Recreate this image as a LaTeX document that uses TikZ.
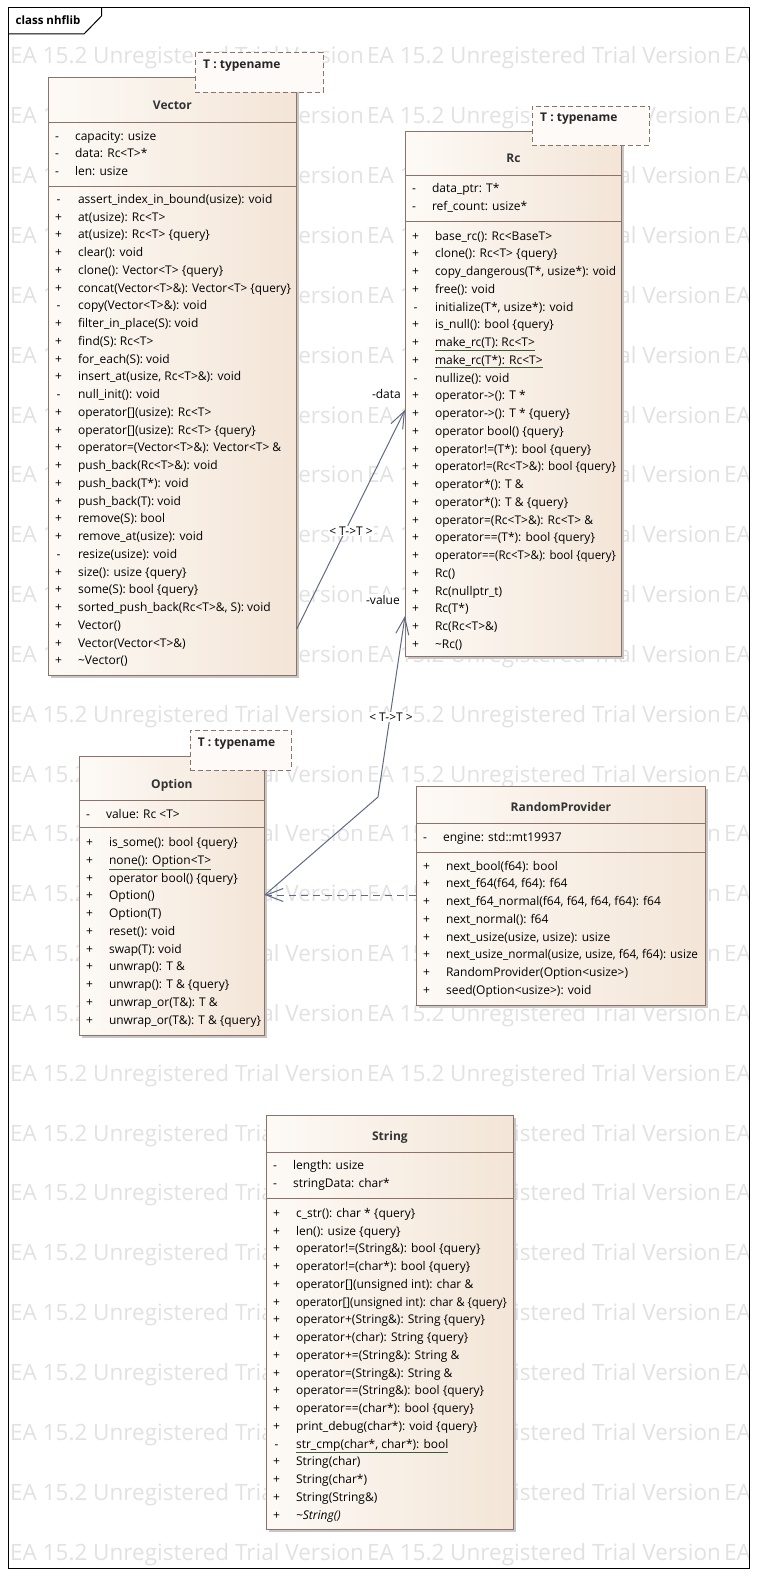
\documentclass[tikz,border=0pt]{standalone}
\usepackage{fontspec}
\setmainfont{Open Sans}
\usepackage{graphicx}
\usepackage{tikz}
\usetikzlibrary{arrows.meta,shadows,positioning}

\definecolor{boxline}{RGB}{140,115,105}
\definecolor{boxlight}{RGB}{253,250,246}
\definecolor{boxdark}{RGB}{243,229,215}
\definecolor{tmplfill}{RGB}{253,250,247}
\definecolor{linkline}{RGB}{95,107,133}
\definecolor{wmgray}{RGB}{226,226,226}
\definecolor{staticline}{RGB}{60,90,60}

\newsavebox\fitbox
\newcommand\fitin[2]{\sbox\fitbox{#2}\ifdim\wd\fitbox>#1pt\resizebox{#1pt}{\ht\fitbox}{\usebox\fitbox}\else\usebox\fitbox\fi}
\newcommand\statop[1]{{\color{staticline}\underline{\color{black}#1}}}
\newcommand\memberlist[1]{\begin{tabular}[t]{@{}c@{\hspace{16pt}}l@{}}#1\end{tabular}}

\begin{document}
\begin{tikzpicture}[x=1pt, y=-1pt,
  classbox/.style={draw=boxline, line width=0.8pt, left color=boxlight, right color=boxdark,
    drop shadow={shadow xshift=3pt, shadow yshift=-3pt, fill=black!22, opacity=1},
    inner sep=0pt, anchor=north west},
  tmplbox/.style={draw=boxline, line width=0.8pt, dash pattern=on 5pt off 3pt, fill=tmplfill,
    inner sep=0pt, anchor=north west},
  compline/.style={draw=boxline, line width=0.8pt},
  title/.style={font=\fontsize{12}{14}\selectfont\bfseries, text=black!80, anchor=base},
  tmpltext/.style={font=\fontsize{12}{14}\selectfont\bfseries, text=black!85, anchor=base west, inner sep=0pt},
  members/.style={font=\fontsize{12}{17.75}\selectfont, anchor=base west, inner sep=0pt},
  assoc/.style={draw=linkline, line width=1pt, -{Straight Barb[length=17pt,width=13pt]}},
  depend/.style={assoc, dash pattern=on 7pt off 5pt},
  elabel/.style={font=\fontsize{12}{14}\selectfont, fill=white, inner sep=1pt},
  wmark/.style={font=\fontsize{22.5}{24}\selectfont, text=wmgray, anchor=base west, inner sep=0pt}]

  \useasboundingbox (0,0) rectangle (757,1576);
  \fill[white] (0,0) rectangle (757,1576);

  % Watermark
  \begin{scope}
    \clip (8,8) rectangle (749,1568);
    \foreach \i in {0,...,25}
      \foreach \j in {0,1,2}
        \node[wmark] (wm-\i-\j) at (10+357*\j, 64+59.84*\i) {EA 15.2 Unregistered Trial Version};
  \end{scope}

  % Frame
  \draw[line width=1pt] (8,8) rectangle (749,1568);
  \draw[line width=1pt] (8,34) -- (84,34) -- (101.5,16) -- (101.5,8);
  \node[anchor=base west, inner sep=0pt, font=\fontsize{11.5}{14}\selectfont\bfseries] (frame-name) at (15.5,25) {class nhflib};

  % Vector
  \node[classbox, minimum width=248, minimum height=598] (vector) at (48,77) {};
  \draw[compline] ([yshift=-45]vector.north west) -- ([yshift=-45]vector.north east);
  \draw[compline] ([yshift=-109]vector.north west) -- ([yshift=-109]vector.north east);
  \node[title] (vector-name) at ([yshift=-32.5]vector.north) {Vector};
  \node[members] (vector-attrs) at ([xshift=7, yshift=-63]vector.north west) {\memberlist{
    - & capacity: usize \\
    - & data: Rc<T>* \\
    - & len: usize}};
  \node[members] (vector-ops) at ([xshift=7, yshift=-126.3]vector.north west) {\memberlist{
    - & assert\_index\_in\_bound(usize): void \\
    + & at(usize): Rc<T> \\
    + & at(usize): Rc<T> \{query\} \\
    + & clear(): void \\
    + & clone(): Vector<T> \{query\} \\
    + & \fitin{213}{concat(Vector<T>\&): Vector<T> \{query\}} \\
    - & copy(Vector<T>\&): void \\
    + & filter\_in\_place(S): void \\
    + & find(S): Rc<T> \\
    + & for\_each(S): void \\
    + & insert\_at(usize, Rc<T>\&): void \\
    - & null\_init(): void \\
    + & operator[](usize): Rc<T> \\
    + & operator[](usize): Rc<T> \{query\} \\
    + & \fitin{213}{operator=(Vector<T>\&): Vector<T> \&} \\
    + & push\_back(Rc<T>\&): void \\
    + & push\_back(T*): void \\
    + & push\_back(T): void \\
    + & remove(S): bool \\
    + & remove\_at(usize): void \\
    - & resize(usize): void \\
    + & size(): usize \{query\} \\
    + & some(S): bool \{query\} \\
    + & sorted\_push\_back(Rc<T>\&, S): void \\
    + & Vector() \\
    + & Vector(Vector<T>\&) \\
    + & \textasciitilde Vector()}};
  \node[tmplbox, minimum width=128, minimum height=40] (vector-tmpl) at (195,52) {};
  \node[tmpltext] (vector-param) at (203,68.5) {T : typename};

  % Rc
  \node[classbox, minimum width=216, minimum height=525] (rc) at (405,131) {};
  \draw[compline] ([yshift=-44.3]rc.north west) -- ([yshift=-44.3]rc.north east);
  \draw[compline] ([yshift=-90]rc.north west) -- ([yshift=-90]rc.north east);
  \node[title] (rc-name) at ([yshift=-31.8]rc.north) {Rc};
  \node[members] (rc-attrs) at ([xshift=7, yshift=-61.7]rc.north west) {\memberlist{
    - & data\_ptr: T* \\
    - & ref\_count: usize*}};
  \node[members] (rc-ops) at ([xshift=7, yshift=-109]rc.north west) {\memberlist{
    + & base\_rc(): Rc<BaseT> \\
    + & clone(): Rc<T> \{query\} \\
    + & \fitin{181}{copy\_dangerous(T*, usize*): void} \\
    + & free(): void \\
    - & initialize(T*, usize*): void \\
    + & is\_null(): bool \{query\} \\
    + & \statop{make\_rc(T): Rc<T>} \\
    + & \statop{make\_rc(T*): Rc<T>} \\
    - & nullize(): void \\
    + & operator->(): T * \\
    + & operator->(): T * \{query\} \\
    + & operator bool() \{query\} \\
    + & operator!=(T*): bool \{query\} \\
    + & \fitin{181}{operator!=(Rc<T>\&): bool \{query\}} \\
    + & operator*(): T \& \\
    + & operator*(): T \& \{query\} \\
    + & \fitin{181}{operator=(Rc<T>\&): Rc<T> \&} \\
    + & \fitin{181}{operator==(T*): bool \{query\}} \\
    + & \fitin{181}{operator==(Rc<T>\&): bool \{query\}} \\
    + & Rc() \\
    + & Rc(nullptr\_t) \\
    + & Rc(T*) \\
    + & Rc(Rc<T>\&) \\
    + & \textasciitilde Rc()}};
  \node[tmplbox, minimum width=117, minimum height=39] (rc-tmpl) at (532,106) {};
  \node[tmpltext] (rc-param) at (540,122) {T : typename};

  % Option
  \node[classbox, minimum width=185, minimum height=279] (option) at (79,756) {};
  \draw[compline] ([yshift=-44.3]option.north west) -- ([yshift=-44.3]option.north east);
  \draw[compline] ([yshift=-71.7]option.north west) -- ([yshift=-71.7]option.north east);
  \node[title] (option-name) at ([yshift=-32.2]option.north) {Option};
  \node[members] (option-attrs) at ([xshift=7, yshift=-62]option.north west) {\memberlist{
    - & value: Rc <T>}};
  \node[members] (option-ops) at ([xshift=7, yshift=-90.7]option.north west) {\memberlist{
    + & is\_some(): bool \{query\} \\
    + & \statop{none(): Option<T>} \\
    + & operator bool() \{query\} \\
    + & Option() \\
    + & Option(T) \\
    + & reset(): void \\
    + & swap(T): void \\
    + & unwrap(): T \& \\
    + & unwrap(): T \& \{query\} \\
    + & unwrap\_or(T\&): T \& \\
    + & \fitin{152}{unwrap\_or(T\&): T \& \{query\}}}};
  \node[tmplbox, minimum width=101, minimum height=40] (option-tmpl) at (190,730) {};
  \node[tmpltext] (option-param) at (197.7,746.7) {T : typename};

  % RandomProvider
  \node[classbox, minimum width=289, minimum height=219] (random) at (416,786) {};
  \draw[compline] ([yshift=-37.3]random.north west) -- ([yshift=-37.3]random.north east);
  \draw[compline] ([yshift=-66.3]random.north west) -- ([yshift=-66.3]random.north east);
  \node[title] (random-name) at ([yshift=-25.2]random.north) {RandomProvider};
  \node[members] (random-attrs) at ([xshift=7, yshift=-55.7]random.north west) {\memberlist{
    - & engine: std::mt19937}};
  \node[members] (random-ops) at ([xshift=7, yshift=-84]random.north west) {\memberlist{
    + & next\_bool(f64): bool \\
    + & next\_f64(f64, f64): f64 \\
    + & \fitin{252}{next\_f64\_normal(f64, f64, f64, f64): f64} \\
    + & next\_normal(): f64 \\
    + & next\_usize(usize, usize): usize \\
    + & \fitin{252}{next\_usize\_normal(usize, usize, f64, f64): usize} \\
    + & RandomProvider(Option<usize>) \\
    + & seed(Option<usize>): void}};

  % String
  \node[classbox, minimum width=247, minimum height=414] (string) at (266,1115) {};
  \draw[compline] ([yshift=-37.3]string.north west) -- ([yshift=-37.3]string.north east);
  \draw[compline] ([yshift=-83.3]string.north west) -- ([yshift=-83.3]string.north east);
  \node[title] (string-name) at ([yshift=-25.5]string.north) {String};
  \node[members] (string-attrs) at ([xshift=7, yshift=-54.7]string.north west) {\memberlist{
    - & length: usize \\
    - & stringData: char*}};
  \node[members] (string-ops) at ([xshift=7, yshift=-102.3]string.north west) {\memberlist{
    + & c\_str(): char * \{query\} \\
    + & len(): usize \{query\} \\
    + & operator!=(String\&): bool \{query\} \\
    + & operator!=(char*): bool \{query\} \\
    + & operator[](unsigned int): char \& \\
    + & \fitin{211}{operator[](unsigned int): char \& \{query\}} \\
    + & operator+(String\&): String \{query\} \\
    + & operator+(char): String \{query\} \\
    + & operator+=(String\&): String \& \\
    + & operator=(String\&): String \& \\
    + & operator==(String\&): bool \{query\} \\
    + & operator==(char*): bool \{query\} \\
    + & print\_debug(char*): void \{query\} \\
    - & \statop{str\_cmp(char*, char*): bool} \\
    + & String(char) \\
    + & String(char*) \\
    + & String(String\&) \\
    + & \textit{\textasciitilde String()}}};

  % Manually draw edges
  \coordinate (value-bend) at (378,797);
  \draw[assoc] ([yshift=-552]vector.north east) -- ([yshift=-279]rc.north west);
  \draw[assoc] ([yshift=-139]option.north east) -- (value-bend) -- ([yshift=-485]rc.north west);
  \draw[depend] ([yshift=-109]random.north west) -- ([yshift=-139]option.north east);

  \node[elabel] (data-tmpl) at (351,531) {< T->T >};
  \node[elabel] (value-tmpl) at (391,717) {< T->T >};
  \node[elabel, anchor=base east] (data-role) at (402,398) {-data};
  \node[elabel, anchor=base east] (value-role) at (401,604) {-value};

\end{tikzpicture}
\end{document}
